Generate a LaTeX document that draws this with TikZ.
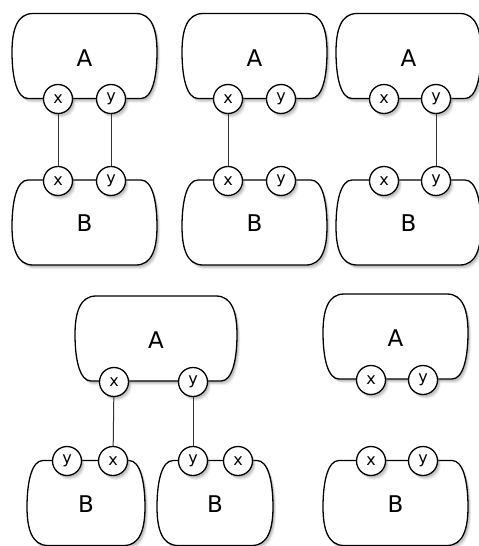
\documentclass[tikz,border=0pt]{standalone}
\usepackage{fontspec}
\setmainfont{DejaVu Sans}
\usepackage{tikz}
\usetikzlibrary{positioning,shadows}

\tikzset{
  softshade/.style={
    drop shadow={shadow xshift=1.6pt,shadow yshift=-2.2pt,opacity=0.12},
    drop shadow={shadow xshift=1.2pt,shadow yshift=-1.6pt,opacity=0.2},
    drop shadow={shadow xshift=0.8pt,shadow yshift=-1pt,opacity=0.25}},
  capsule/.style={draw,line width=0.65pt,fill=white,softshade},
  port/.style={circle,draw,line width=0.65pt,fill=white,minimum size=14.5pt,inner sep=0pt,
    font=\fontsize{8}{9}\selectfont,softshade},
  wire/.style={line width=0.5pt,draw=black!80},
  title/.style={font=\fontsize{11.5}{13}\selectfont,inner sep=0pt}
}

% upper unit: ports sit on its lower edge
\newcommand{\topcap}[4]{% name, x, y, half width
  \draw[capsule,shift={(#2,#3)}] (-#4+21,-42.5) -- (#4-21,-42.5)
    .. controls (#4-5,-42.5) and (#4,-26) .. (#4,-4)
    .. controls (#4,22) and (#4-5,42.5) .. (#4-16,42.5) -- (-#4+16,42.5)
    .. controls (-#4+5,42.5) and (-#4,22) .. (-#4,-4)
    .. controls (-#4,-26) and (-#4+5,-42.5) .. (-#4+21,-42.5) -- cycle;
  \node[title] (#1) at (#2,#3+2) {A};}

% lower unit: ports sit on its upper edge
\newcommand{\botcap}[4]{% name, x, y, half width
  \draw[capsule,shift={(#2,#3)}] (-#4+16,-42.5) -- (#4-16,-42.5)
    .. controls (#4-5,-42.5) and (#4,-22) .. (#4,4)
    .. controls (#4,26) and (#4-5,42.5) .. (#4-21,42.5) -- (-#4+21,42.5)
    .. controls (-#4+5,42.5) and (-#4,26) .. (-#4,4)
    .. controls (-#4,-22) and (-#4+5,-42.5) .. (-#4+16,-42.5) -- cycle;
  \node[title] (#1) at (#2,#3+1) {B};}

\begin{document}
\begin{tikzpicture}[x=0.5pt,y=-0.5pt]
  \useasboundingbox (0,0) rectangle (478,546);

  % top row
  \topcap{A1}{84.5}{56}{72.5}
  \botcap{B1}{84.5}{222.5}{72.5}
  \topcap{A2}{254.5}{56}{72.5}
  \botcap{B2}{254.5}{222.5}{72.5}
  \topcap{A3}{408.5}{56}{72.5}
  \botcap{B3}{408.5}{222.5}{72.5}

  % bottom row
  \topcap{A4}{156}{338.5}{81}
  \botcap{B4}{86}{503}{59}
  \botcap{B5}{215}{503}{58}
  \topcap{A5}{395.5}{336.5}{72.5}
  \botcap{B6}{395.5}{503}{72.5}

  \node[port] (A1x) at (58,99) {x};
  \node[port] (A1y) at (111,99) {y};
  \node[port] (B1x) at (58,181) {x};
  \node[port] (B1y) at (111,181) {y};

  \node[port] (A2x) at (228,99) {x};
  \node[port] (A2y) at (281,99) {y};
  \node[port] (B2x) at (228,181) {x};
  \node[port] (B2y) at (281,181) {y};

  \node[port] (A3x) at (384,99) {x};
  \node[port] (A3y) at (436,99) {y};
  \node[port] (B3x) at (384,181) {x};
  \node[port] (B3y) at (436,181) {y};

  \node[port] (A4x) at (114,382) {x};
  \node[port] (A4y) at (193,382) {y};
  \node[port] (B4y) at (67,461) {y};
  \node[port] (B4x) at (113,461) {x};
  \node[port] (B5y) at (193,461) {y};
  \node[port] (B5x) at (238,461) {x};

  \node[port] (A5x) at (371,380) {x};
  \node[port] (A5y) at (423,380) {y};
  \node[port] (B6x) at (371,461) {x};
  \node[port] (B6y) at (423,461) {y};

  \draw[wire] (A1x) -- (B1x);
  \draw[wire] (A1y) -- (B1y);
  \draw[wire] (A2x) -- (B2x);
  \draw[wire] (A3y) -- (B3y);
  \draw[wire] (A4x) -- (B4x);
  \draw[wire] (A4y) -- (B5y);
\end{tikzpicture}
\end{document}
